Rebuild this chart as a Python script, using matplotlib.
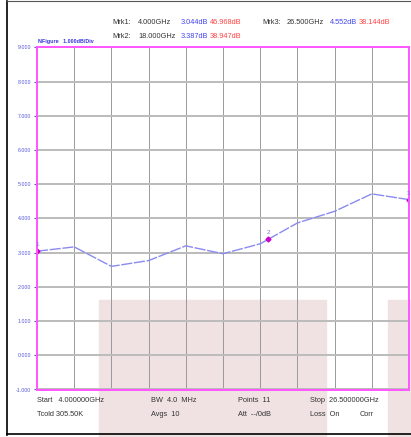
import numpy as np
import matplotlib.pyplot as plt
from matplotlib.patches import Rectangle

plt.rcParams['font.family'] = ['Liberation Sans Narrow', 'Liberation Sans', 'DejaVu Sans']

freq = np.linspace(4.0, 26.5, 11)
nf = [3.044, 3.17, 2.60, 2.77, 3.20, 2.97, 3.26, 3.87, 4.21, 4.72, 4.552]
mk_freq = [4.0, 18.0, 26.5]
mk_nf = [3.044, 3.387, 4.552]
mk_lbl = ["1", "2", "3"]
yticks = np.arange(-1, 10, 1)

fig = plt.figure(figsize=(4.11, 4.37), dpi=100)

# frame of the screenshot
fig.add_artist(plt.Line2D([7/411, 7/411], [0.005, 0.998], color='black', lw=1.2))
fig.add_artist(plt.Line2D([7/411, 1.0], [1-434/437, 1-434/437], color='black', lw=1.2))
fig.add_artist(plt.Line2D([7/411, 1.0], [0.997, 0.997], color='#555555', lw=0.8))

# faint background blobs
fig.add_artist(Rectangle((99/411, 0), (326-99)/411, 1-300/437, color='#f0e2e2', zorder=0))
fig.add_artist(Rectangle((388/411, 0), 23/411, 1-300/437, color='#f0e2e2', zorder=0))

ax = fig.add_axes([37/411, 1-389.5/437, 372/411, 342/437])
ax.patch.set_alpha(0)
ax.plot(freq, nf, color='#8a8af0', lw=1.0, ls=(0, (8, 1.2)))
ax.plot(mk_freq, mk_nf, 'D', color='#cc00cc', ms=2.5, ls='none')
for f, v, t in zip(mk_freq, mk_nf, mk_lbl):
    ax.text(f, v + 0.12, t, color='#7070e0', fontsize=4.5, ha='center', va='bottom')

ax.set_xlim(4.0, 26.5)
ax.set_ylim(-1, 9)
ax.set_xticks(np.linspace(4.0, 26.5, 11))
ax.set_yticks(yticks)
ax.set_yticklabels(['%.3f' % v for v in yticks], color='#5555dd', fontsize=3.8)
ax.set_xticklabels([])
ax.tick_params(axis='x', length=0)
ax.tick_params(axis='y', length=2, color='#5555dd', pad=2)
ax.grid(axis='x', color='#999999', lw=0.7)
ax.grid(axis='y', color='#bbbbbb', lw=1.4)
for s in ax.spines.values():
    s.set_color('#ff55ff')
    s.set_linewidth(1.4)

def t(x, y, s, c='#333333', **kw):
    fig.text(x/411, 1-y/437, s, color=c, fontsize=5.3, va='center', **kw)

t(112, 22, "Mrk1:")
t(138, 22, "4.000GHz")
t(181, 22, "3.044dB", '#4444ee')
t(210, 22, "46.968dB", '#ff4444')
t(262, 22, "Mrk3:")
t(287, 22, "26.500GHz")
t(330, 22, "4.552dB", '#4444ee')
t(359, 22, "38.144dB", '#ff4444')
t(112, 36, "Mrk2:")
t(138, 36, "18.000GHz")
t(181, 36, "3.387dB", '#4444ee')
t(210, 36, "38.947dB", '#ff4444')
fig.text(38/411, 1-42/437, "NFigure   1.000dB/Div", color='#3333dd', fontsize=3.9,
         fontweight='bold', va='center')

t(37, 400, "Start   4.000000GHz")
t(37, 415, "Tcold 305.50K")
t(151, 400, "BW  4.0  MHz")
t(151, 415, "Avgs  10")
t(238, 400, "Points  11")
t(238, 415, "Att  --/0dB")
t(310, 400, "Stop  26.500000GHz")
t(310, 415, "Loss  On")
t(360, 415, "Corr")

fig.savefig("out.png", dpi=100)
